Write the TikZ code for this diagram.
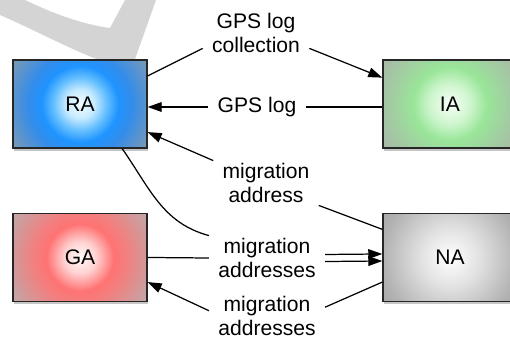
\documentclass[tikz,border=0pt]{standalone}
\usepackage{xcolor}
\usepackage{fontspec}
\setmainfont{Liberation Sans}
\usepackage{tikz}
\usetikzlibrary{shapes, arrows.meta, shadows}

\pgfdeclareradialshading{rashade}{\pgfpoint{0bp}{0bp}}{rgb(0bp)=(0.95,0.99,1);rgb(4.5bp)=(0.78,0.92,1);rgb(8.5bp)=(0.38,0.74,1);rgb(12bp)=(0.12,0.58,1);rgb(16bp)=(0.2,0.55,0.92);rgb(21bp)=(0.36,0.58,0.8);rgb(25bp)=(0.48,0.6,0.72);rgb(50bp)=(0.48,0.6,0.72)}
\pgfdeclareradialshading{iashade}{\pgfpoint{0bp}{0bp}}{rgb(0bp)=(0.97,1,0.97);rgb(6.5bp)=(0.8,0.96,0.8);rgb(11.5bp)=(0.6,0.9,0.6);rgb(17bp)=(0.63,0.82,0.63);rgb(25bp)=(0.66,0.72,0.66);rgb(50bp)=(0.66,0.72,0.66)}
\pgfdeclareradialshading{gashade}{\pgfpoint{0bp}{0bp}}{rgb(0bp)=(1,0.98,0.98);rgb(5bp)=(1,0.82,0.82);rgb(10.5bp)=(1,0.45,0.45);rgb(14.5bp)=(0.95,0.5,0.5);rgb(21bp)=(0.82,0.6,0.6);rgb(25bp)=(0.76,0.66,0.66);rgb(50bp)=(0.76,0.66,0.66)}
\pgfdeclareradialshading{nashade}{\pgfpoint{0bp}{0bp}}{rgb(0bp)=(1,1,1);rgb(9.5bp)=(0.88,0.88,0.88);rgb(21bp)=(0.7,0.7,0.7);rgb(25bp)=(0.66,0.66,0.66);rgb(50bp)=(0.66,0.66,0.66)}

\begin{document}
\begin{tikzpicture}[-,>={Triangle[length=8pt,width=5.5pt]},auto,x=0.02cm,y=-0.02cm,
      node distance=7.4cm,line width=0.7pt,
      main node/.style={rectangle,draw=black!85,fill=white,minimum width=2.68cm,minimum height=1.76cm,
        drop shadow={opacity=0.45,shadow xshift=0.6pt,shadow yshift=-1.6pt},
        font=\fontsize{12}{14}\selectfont},
      glow/.style={path picture={\shade[shading=#1] (path picture bounding box.center) circle (1.6cm);}},
      other node/.style={align=center,inner xsep=5pt,inner ysep=1pt,font=\fontsize{12}{14}\selectfont}]

    \useasboundingbox (0,0) rectangle (510,338);
    % grey mark in the corner
    \fill[black!17] (0,15) .. controls (35,30) and (75,52) .. (105,62) -- (134,62) -- (156,0)
        -- (125,0) -- (110,28) .. controls (80,24) and (50,12) .. (25,0) -- (0,0) -- cycle;

    \node[main node, glow=rashade] (RA) at (80,104) {RA};
    \node[main node, glow=iashade] (IA) [right of=RA] {IA};
    \node[main node, glow=gashade] (GA) [below of=RA, node distance=3.07cm] {GA};
    \node[main node, glow=nashade] (NA) [right of=GA] {NA};

    \node[other node] (lbl1) at (256,33) {GPS log\\collection};
    \node[other node] (lbl2) at (257,107) {GPS log};
    \node[other node] (lbl3) at (266,183) {migration\\address};
    \node[other node] (lbl4) at (267,258) {migration\\addresses};
    \node[other node] (lbl5) at (267,316) {migration\\addresses};

    \path
        ([yshift=16pt]RA.east) edge ([yshift=4pt]lbl1.south west)
        ([yshift=4pt]lbl1.south east) edge[->] ([yshift=15pt]IA.west)
        (lbl2.east) edge (lbl2.east -| IA.west)
        (lbl2.west) edge[->] (lbl2.west -| RA.east)
        (lbl3.north west) edge[->] ([yshift=-16pt]RA.east)
        ([yshift=16pt]NA.west) edge (lbl3.south east)
        ([xshift=24pt]RA.south) edge[out=-55,in=165] (lbl4.north west)
        (GA.east) edge (lbl4.west)
        ([yshift=2pt]lbl4.east) edge[->] ([yshift=2pt]NA.west)
        ([yshift=-2pt]lbl4.east) edge[->] ([yshift=-2pt]NA.west)
        ([yshift=3pt]lbl5.west) edge[->] ([yshift=-14pt]GA.east)
        ([yshift=-14pt]NA.west) edge ([yshift=5pt]lbl5.east)
    ;
\end{tikzpicture}
\end{document}
